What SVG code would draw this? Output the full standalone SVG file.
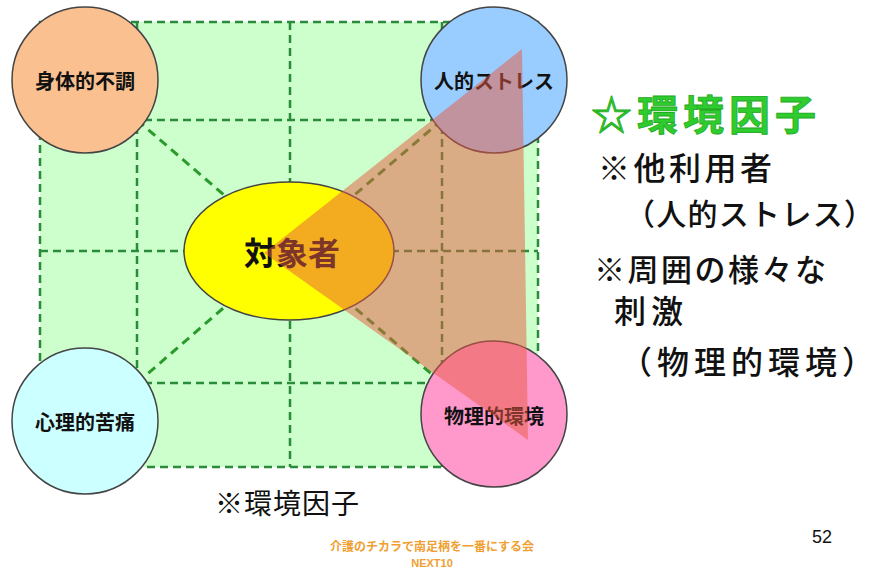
<svg xmlns="http://www.w3.org/2000/svg" width="875" height="570" viewBox="0 0 875 570">
<style>
.grid{fill:none;stroke:#2a8c3a;stroke-width:2.5;stroke-dasharray:8 5}
.conn{fill:none;stroke:#2a9a2a;stroke-width:3;stroke-dasharray:9 6}
.node{stroke:#444;stroke-width:1.5}
.lbl{font-family:"Noto Sans CJK JP","Noto Sans",sans-serif;font-weight:bold;font-size:20px;fill:#111;text-anchor:middle}
.side{font-family:"Noto Sans CJK JP","Noto Sans",sans-serif;font-weight:500;font-size:32px;fill:#111}
</style>
<rect width="875" height="570" fill="#ffffff"/>
<g id="background">
<rect x="40" y="22" width="498" height="445" fill="#ccffcc"/>
<rect class="grid" x="40" y="22" width="498" height="445"/>
<line class="grid" x1="137" y1="22" x2="137" y2="467"/>
<line class="grid" x1="290" y1="22" x2="290" y2="467"/>
<line class="grid" x1="442" y1="22" x2="442" y2="467"/>
<line class="grid" x1="40" y1="120" x2="538" y2="120"/>
<line class="grid" x1="40" y1="251" x2="538" y2="251"/>
<line class="grid" x1="40" y1="383" x2="538" y2="383"/>
</g>
<g id="connectors">
<line class="conn" x1="137" y1="120" x2="289" y2="251"/>
<line class="conn" x1="442" y1="120" x2="289" y2="251"/>
<line class="conn" x1="137" y1="383" x2="289" y2="251"/>
<line class="conn" x1="442" y1="383" x2="289" y2="251"/>
</g>
<g id="node-shintai">
<circle class="node" cx="85" cy="80" r="73" fill="#fac090"/>
<text class="lbl" x="85" y="89">身体的不調</text>
</g>
<g id="node-jinteki">
<circle class="node" cx="494" cy="80" r="73" fill="#99ccff"/>
<text class="lbl" x="494" y="89">人的ストレス</text>
</g>
<g id="node-shinri">
<circle class="node" cx="85" cy="421" r="73" fill="#ccffff"/>
<text class="lbl" x="85" y="430">心理的苦痛</text>
</g>
<g id="node-butsuri">
<circle class="node" cx="494" cy="414" r="73" fill="#ff99cc"/>
<text class="lbl" x="494" y="424">物理的環境</text>
</g>
<g id="node-taisho">
<ellipse class="node" cx="289" cy="251" rx="105" ry="69" fill="#ffff00"/>
<text class="lbl" x="292" y="265" style="font-size:32px">対象者</text>
</g>
<g id="overlay">
<polygon points="264,253 522,49 528,440" fill="#e85a40" fill-opacity="0.5"/>
</g>
<g id="side-text">
<text x="591" y="130" style="font-family:'Noto Sans CJK JP','Noto Sans',sans-serif;font-weight:bold;font-size:41px;fill:#2ecc2e;stroke:#22aa22;stroke-width:0.8;letter-spacing:5px">☆環境因子</text>
<text class="side" x="598" y="180" style="letter-spacing:3.5px">※他利用者</text>
<text class="side" x="874" y="225" text-anchor="end" style="font-size:30px"><tspan style="letter-spacing:1.3px">（人的ストレス</tspan>）</text>
<text class="side" x="594" y="281" style="font-size:31px;letter-spacing:2.5px">※周囲の様々な</text>
<text class="side" x="614" y="323" style="letter-spacing:5px">刺激</text>
<text class="side" x="874" y="374" text-anchor="end"><tspan style="letter-spacing:5px">（物理的環境</tspan>）</text>
</g>
<g id="caption">
<text x="215" y="514" style="font-family:'Noto Sans CJK JP','Noto Sans',sans-serif;font-size:28px;fill:#111;letter-spacing:1px">※環境因子</text>
</g>
<g id="footer">
<text x="432" y="551" text-anchor="middle" style="font-family:'Noto Sans CJK JP','Noto Sans',sans-serif;font-weight:bold;font-size:12px;fill:#f0a030">介護のチカラで南足柄を一番にする会</text>
<text x="432" y="567" text-anchor="middle" style="font-family:'Liberation Sans',sans-serif;font-weight:bold;font-size:11px;fill:#f0a030">NEXT10</text>
<text x="812" y="543" style="font-family:'Liberation Sans',Arial,sans-serif;font-size:18px;fill:#111">52</text>
</g>
</svg>
